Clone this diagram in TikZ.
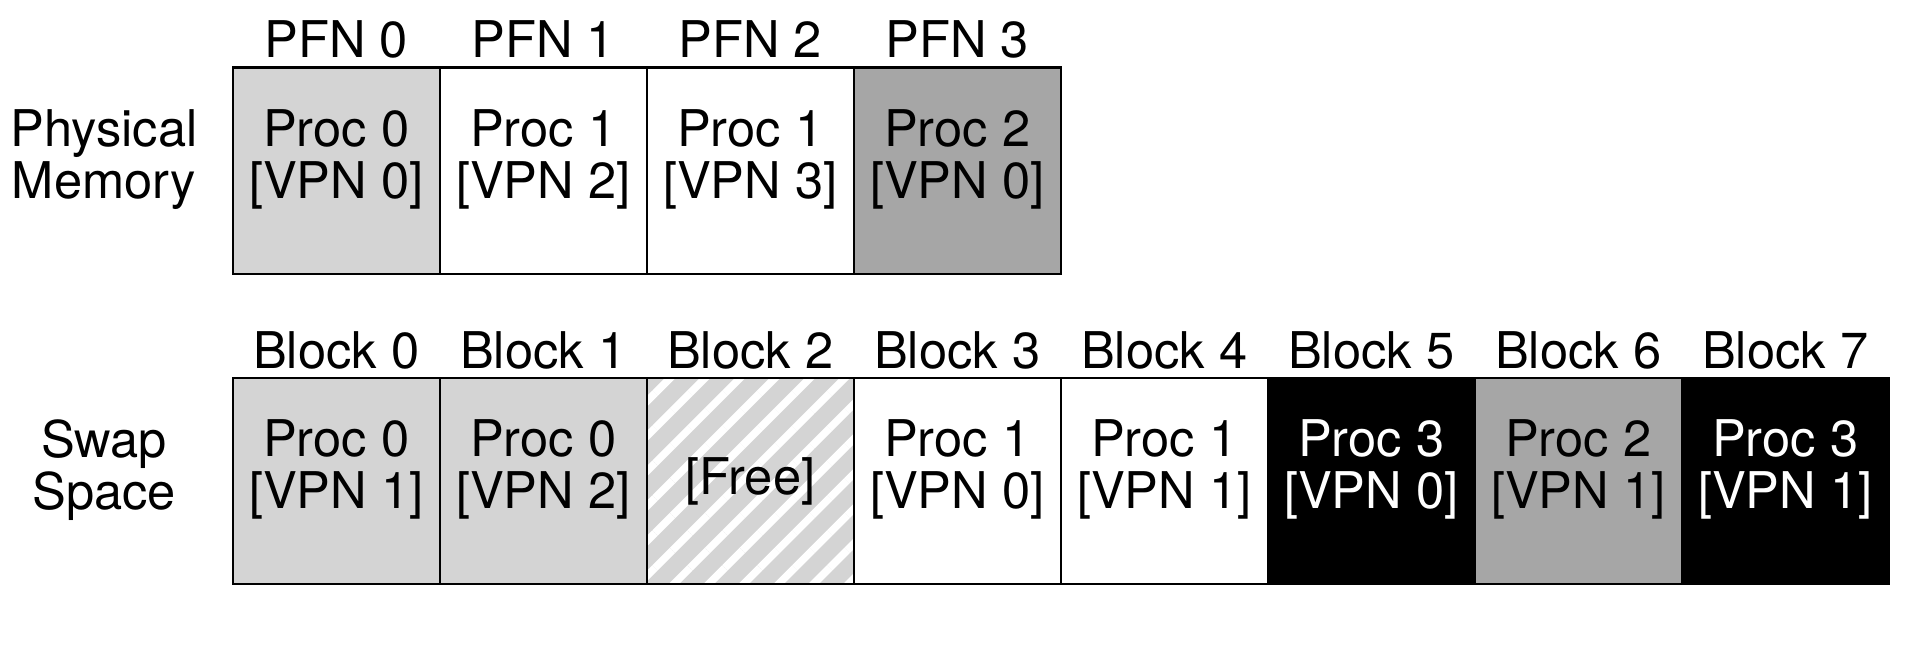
\documentclass[tikz,border=0pt]{standalone}
\usepackage{fontspec}
\setmainfont{TeX Gyre Heros}
\usepackage{tikz}
\usetikzlibrary{positioning,patterns.meta}
\definecolor{lgray}{gray}{0.83}
\definecolor{dgray}{gray}{0.65}

\begin{document}
\begin{tikzpicture}[every node/.style={font=\fontsize{14.4}{14.8}\selectfont},
  cell/.style={draw, line width=0.6pt, minimum width=2.07cm, minimum height=2.065cm,
    inner sep=0pt, outer sep=0pt, align=center, text depth=0.33cm},
  free/.style={draw, line width=0.6pt, minimum width=2.07cm, minimum height=2.065cm,
    inner sep=0pt, outer sep=0pt, preaction={fill=lgray}, pattern color=white,
    pattern={Lines[angle=45,distance=0.247cm,line width=0.075cm]}},
  head/.style={anchor=base},
  side/.style={align=center, text depth=0.33cm}]
  \useasboundingbox (0,0) rectangle (19.2,-6.64);

  % physical memory
  \node [cell, fill=lgray] (p0) at (3.362,-1.7075) {Proc 0\\{[VPN 0]}};
  \node [cell, right=0pt of p0] (p1) {Proc 1\\{[VPN 2]}};
  \node [cell, right=0pt of p1] (p2) {Proc 1\\{[VPN 3]}};
  \node [cell, fill=dgray, right=0pt of p2] (p3) {Proc 2\\{[VPN 0]}};
  \node [head] at ([yshift=0.1cm]p0.north) {PFN 0};
  \node [head] at ([yshift=0.1cm]p1.north) {PFN 1};
  \node [head] at ([yshift=0.1cm]p2.north) {PFN 2};
  \node [head] at ([yshift=0.1cm]p3.north) {PFN 3};
  \node [side] (pm) at (1.04,-1.7075) {Physical\\Memory};

  % swap space
  \node [cell, fill=lgray] (s0) at (3.362,-4.81) {Proc 0\\{[VPN 1]}};
  \node [cell, fill=lgray, right=0pt of s0] (s1) {Proc 0\\{[VPN 2]}};
  \node [free, right=0pt of s1] (s2) {[Free]};
  \node [cell, right=0pt of s2] (s3) {Proc 1\\{[VPN 0]}};
  \node [cell, right=0pt of s3] (s4) {Proc 1\\{[VPN 1]}};
  \node [cell, fill=black, text=white, right=0pt of s4] (s5) {Proc 3\\{[VPN 0]}};
  \node [cell, fill=dgray, right=0pt of s5] (s6) {Proc 2\\{[VPN 1]}};
  \node [cell, fill=black, text=white, right=0pt of s6] (s7) {Proc 3\\{[VPN 1]}};
  \node [head] at ([yshift=0.09cm]s0.north) {Block 0};
  \node [head] at ([yshift=0.09cm]s1.north) {Block 1};
  \node [head] at ([yshift=0.09cm]s2.north) {Block 2};
  \node [head] at ([yshift=0.09cm]s3.north) {Block 3};
  \node [head] at ([yshift=0.09cm]s4.north) {Block 4};
  \node [head] at ([yshift=0.09cm]s5.north) {Block 5};
  \node [head] at ([yshift=0.09cm]s6.north) {Block 6};
  \node [head] at ([yshift=0.09cm]s7.north) {Block 7};
  \node [side] (ss) at (1.04,-4.81) {Swap\\Space};
\end{tikzpicture}
\end{document}
